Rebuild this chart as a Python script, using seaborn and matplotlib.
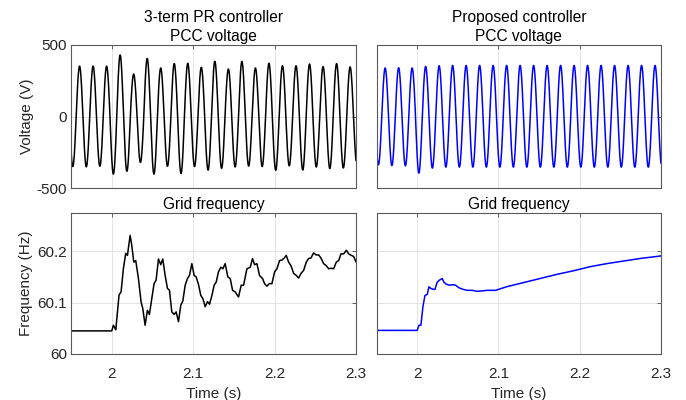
import numpy as np
import matplotlib.pyplot as plt
import seaborn as sns

sns.set_style("whitegrid")
plt.rcParams['font.family'] = ['Liberation Sans', 'DejaVu Sans']
plt.rcParams['font.size'] = 11
plt.rcParams['axes.unicode_minus'] = False

# --- data ---
# PCC voltage: extreme value of every half-cycle (troughs and peaks alternate),
# the first trough sits at first_trough_t, carrier at roughly 60.2 Hz
carrier_hz = 60.2
first_trough_t = 1.9522

pr_troughs = [-350, -352, -348, -403, -383, -321, -403, -348, -399, -350, -375,
              -362, -353, -347, -350, -376, -345, -374, -353, -364, -360, -335]
pr_peaks = [352, 352, 352, 430, 297, 406, 339, 370, 372, 344, 386,
            332, 385, 339, 372, 355, 355, 367, 349, 370, 347]

prop_troughs = [-338, -343, -345, -396, -361, -354, -354, -354, -354, -354, -354,
                -354, -354, -354, -354, -354, -354, -354, -354, -354, -354, -354]
prop_peaks = [339, 341, 339, 350, 355, 357, 357, 357, 357, 357, 357,
              357, 357, 357, 357, 357, 357, 357, 357, 357, 357]

# grid frequency
pr_freq_t = [1.95, 1.9918, 2.0, 2.0021, 2.005, 2.009, 2.0115, 2.0143, 2.0172, 2.0193,
             2.0226, 2.0246, 2.0271, 2.0295, 2.0328, 2.0361, 2.0381, 2.041, 2.0438, 2.0463,
             2.0492, 2.052, 2.0545, 2.0574, 2.0602, 2.0627, 2.0656, 2.0684, 2.0709, 2.0738,
             2.0766, 2.0791, 2.082, 2.0848, 2.0873, 2.0902, 2.093, 2.0955, 2.0984, 2.1012,
             2.1037, 2.1066, 2.1094, 2.1119, 2.1148, 2.1176, 2.1201, 2.123, 2.1258, 2.1283,
             2.1311, 2.134, 2.1365, 2.1393, 2.1426, 2.1455, 2.1484, 2.1516, 2.1557, 2.159,
             2.1619, 2.166, 2.1701, 2.1729, 2.1754, 2.1783, 2.1815, 2.1852, 2.1877, 2.1906,
             2.1934, 2.1967, 2.2, 2.2029, 2.2061, 2.209, 2.2119, 2.2143, 2.2172, 2.2201,
             2.2234, 2.2266, 2.2295, 2.2324, 2.2357, 2.2389, 2.2418, 2.2447, 2.2479, 2.2508,
             2.2541, 2.2569, 2.2602, 2.2635, 2.2664, 2.2696, 2.2725, 2.2758, 2.2787, 2.2815,
             2.2848, 2.2881, 2.291, 2.2943, 2.2971, 2.3]
pr_freq_hz = [60.045, 60.045, 60.045, 60.056, 60.047, 60.115, 60.121, 60.166, 60.196, 60.192,
              60.231, 60.212, 60.179, 60.182, 60.147, 60.101, 60.089, 60.056, 60.085, 60.077,
              60.108, 60.137, 60.144, 60.185, 60.174, 60.185, 60.153, 60.128, 60.124, 60.082,
              60.077, 60.082, 60.063, 60.095, 60.103, 60.134, 60.147, 60.153, 60.176, 60.153,
              60.150, 60.135, 60.114, 60.108, 60.092, 60.102, 60.097, 60.114, 60.134, 60.140,
              60.160, 60.169, 60.166, 60.176, 60.150, 60.147, 60.124, 60.121, 60.111, 60.134,
              60.134, 60.166, 60.169, 60.186, 60.174, 60.176, 60.153, 60.147, 60.137, 60.132,
              60.137, 60.137, 60.160, 60.166, 60.182, 60.183, 60.187, 60.192, 60.179, 60.172,
              60.157, 60.153, 60.148, 60.157, 60.163, 60.179, 60.186, 60.187, 60.197, 60.193,
              60.193, 60.187, 60.176, 60.172, 60.166, 60.167, 60.166, 60.179, 60.182, 60.195,
              60.195, 60.202, 60.195, 60.192, 60.190, 60.179]

prop_freq_t = [1.95, 2.0, 2.0021, 2.0045, 2.007, 2.0095, 2.0123, 2.0144, 2.0164, 2.0193,
               2.0218, 2.0246, 2.0275, 2.0308, 2.0328, 2.0357, 2.0398, 2.0439, 2.0472, 2.0513,
               2.0562, 2.0616, 2.0677, 2.0739, 2.0800, 2.0862, 2.0903, 2.0964, 2.1101, 2.1306,
               2.1511, 2.1716, 2.1921, 2.2126, 2.2332, 2.2537, 2.2742, 2.3]
prop_freq_hz = [60.046, 60.046, 60.056, 60.056, 60.092, 60.114, 60.116, 60.131, 60.128, 60.126,
                60.126, 60.140, 60.144, 60.147, 60.140, 60.136, 60.134, 60.135, 60.134, 60.129,
                60.126, 60.124, 60.124, 60.122, 60.123, 60.124, 60.124, 60.124, 60.131, 60.139,
                60.147, 60.155, 60.162, 60.170, 60.176, 60.181, 60.186, 60.191]

x_ticks = [2.0, 2.1, 2.2, 2.3]
x_tick_labels = ['2', '2.1', '2.2', '2.3']


def waveform(troughs, peaks, t):
    # each half-cycle takes its own extreme value
    ext = np.empty(len(troughs) + len(peaks))
    ext[0::2] = troughs
    ext[1::2] = peaks
    ph = (t - first_trough_t) * 2 * carrier_hz
    k = np.clip(np.round(ph).astype(int), 0, len(ext) - 1)
    return ext[k] * np.abs(np.cos(np.pi * ph))


t = np.linspace(1.95, 2.3, 4000)
pr_v = waveform(pr_troughs, pr_peaks, t)
prop_v = waveform(prop_troughs, prop_peaks, t)

fig = plt.figure(figsize=(6.86, 4.0), dpi=100)
ax_tl = fig.add_axes([0.1035, 0.53, 0.4155, 0.3575])
ax_tr = fig.add_axes([0.549, 0.53, 0.4145, 0.3575])
ax_bl = fig.add_axes([0.1035, 0.115, 0.4155, 0.353])
ax_br = fig.add_axes([0.549, 0.115, 0.4145, 0.353])

sns.lineplot(x=t, y=pr_v, ax=ax_tl, color='black', lw=1.1, estimator=None, sort=False)
sns.lineplot(x=t, y=prop_v, ax=ax_tr, color='blue', lw=1.1, estimator=None, sort=False)
sns.lineplot(x=pr_freq_t, y=pr_freq_hz, ax=ax_bl, color='black', lw=1.1, estimator=None, sort=False)
sns.lineplot(x=prop_freq_t, y=prop_freq_hz, ax=ax_br, color='blue', lw=1.1, estimator=None, sort=False)

text_col = '#262626'
fs = 11
for ax in [ax_tl, ax_tr, ax_bl, ax_br]:
    ax.set_xlim(1.95, 2.3)
    ax.set_xticks(x_ticks)
    ax.set_xticklabels(x_tick_labels)
    ax.grid(True, color='#e3e3e3', lw=0.7)
    ax.tick_params(direction='in', length=3, width=0.6, top=True, right=True,
                   colors='#4d4d4d', labelcolor=text_col, labelsize=fs)
    ax.tick_params(axis='y', pad=3)
    ax.tick_params(axis='x', pad=9)
    for s in ax.spines.values():
        s.set_color('#5a5a5a')
        s.set_linewidth(0.8)

for ax in [ax_tl, ax_tr]:
    ax.set_ylim(-500, 500)
    ax.set_yticks([-500, 0, 500])
    ax.tick_params(labelbottom=False)
for ax in [ax_bl, ax_br]:
    ax.set_ylim(60, 60.275)
    ax.set_yticks([60, 60.1, 60.2])
    ax.set_yticklabels(['60', '60.1', '60.2'])
    ax.set_xlabel('Time (s)', fontsize=fs, color=text_col, labelpad=5)
for ax in [ax_tr, ax_br]:
    ax.tick_params(labelleft=False)

ax_tl.set_ylabel('Voltage (V)', fontsize=fs, color=text_col, labelpad=2)
ax_bl.set_ylabel('Frequency (Hz)', fontsize=fs, color=text_col, labelpad=3)

ax_tl.set_title('3-term PR controller\nPCC voltage', fontsize=11.2, color='black', pad=3, linespacing=1.3)
ax_tr.set_title('Proposed controller\nPCC voltage', fontsize=11.2, color='black', pad=3, linespacing=1.3)
ax_bl.set_title('Grid frequency', fontsize=11.2, color='black', pad=3)
ax_br.set_title('Grid frequency', fontsize=11.2, color='black', pad=3)

plt.savefig('out.png', dpi=100)
plt.close('all')
